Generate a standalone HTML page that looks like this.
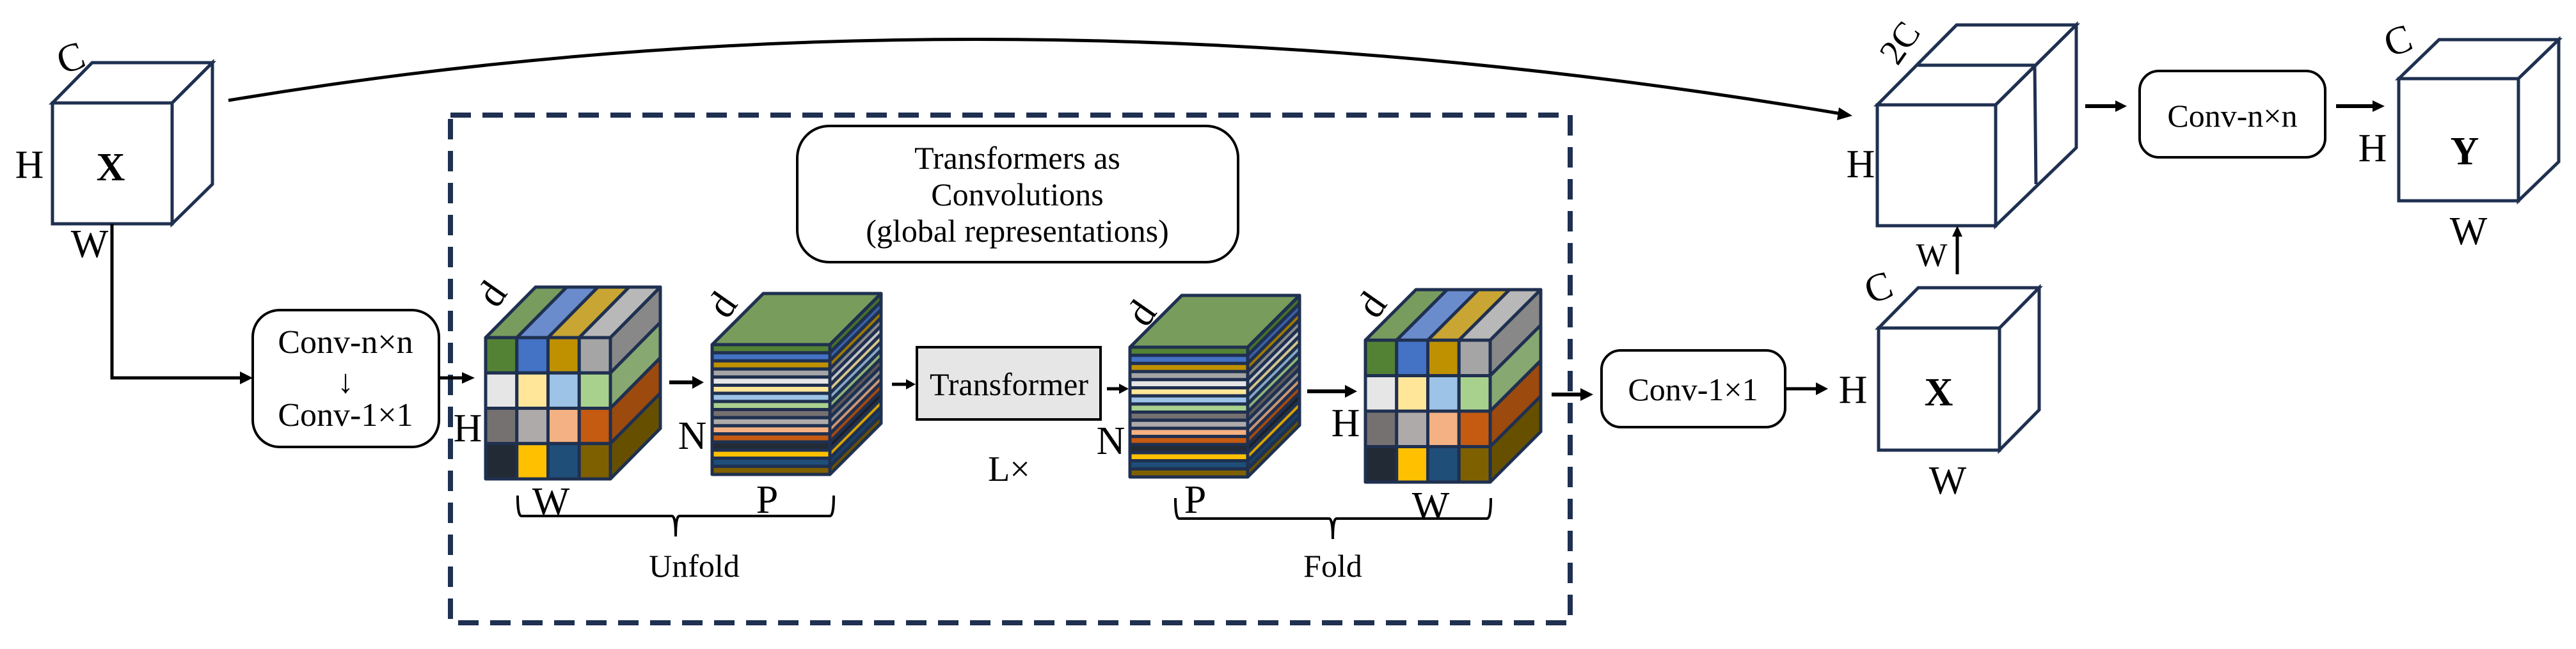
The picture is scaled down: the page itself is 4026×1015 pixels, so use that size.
<!DOCTYPE html>
<html><head><meta charset="utf-8"><style>
html,body{margin:0;padding:0;background:#fff;}
svg{display:block;}
svg text{font-family:"Liberation Serif","Times New Roman","DejaVu Serif",serif;fill:#000;}
</style></head><body>
<svg id="s" width="4026" height="1015" viewBox="0 0 4026 1015" xmlns="http://www.w3.org/2000/svg" font-family="Liberation Serif, Times New Roman, DejaVu Serif, serif">
<rect width="4026" height="1015" fill="#fff"/>
<rect x="704" y="180" width="1750" height="794" fill="none" stroke="#1f3050" stroke-width="8" stroke-dasharray="32 18"/>

<g fill="#fff" stroke="#1f3050" stroke-width="5" stroke-linejoin="miter">
<polygon points="82,161 144,98 332,98 269,161"/>
<polygon points="269,161 332,98 332,288 269,350"/>
<rect x="82" y="161" width="187" height="189"/>
</g>
<text x="92" y="118" font-size="62" transform="rotate(-20 92 100)">C</text>
<text x="46" y="278" font-size="62" text-anchor="middle">H</text>
<text x="173" y="282" font-size="62" font-weight="bold" text-anchor="middle">X</text>
<text x="140" y="402" font-size="62" text-anchor="middle">W</text>

<polyline points="175,350 175,591 385,591" fill="none" stroke="#000" stroke-width="5"/>
<polygon points="395,591 375,581 375,601" fill="#000"/>
<rect x="395" y="485" width="291" height="214" rx="42" fill="#fff" stroke="#000" stroke-width="4"/>
<text x="540" y="552" font-size="52" text-anchor="middle">Conv-n×n</text>
<text x="540" y="614" font-size="52" text-anchor="middle">↓</text>
<text x="540" y="666" font-size="52" text-anchor="middle">Conv-1×1</text>
<line x1="686" y1="591" x2="728" y2="591" stroke="#000" stroke-width="5"/>
<polygon points="742,591 722,582 722,600" fill="#000"/>

<path d="M357,157 Q1560,-44 2878,178" fill="none" stroke="#000" stroke-width="5"/>
<polygon points="2895,181 2874,168 2871,188" fill="#000"/>

<g id="cubes"></g>

<text x="769" y="480" font-size="62" text-anchor="middle" transform="rotate(-55 769 460)">d</text>
<text x="1129" y="497" font-size="62" text-anchor="middle" transform="rotate(-55 1129 477)">d</text>
<text x="1784" y="510" font-size="62" text-anchor="middle" transform="rotate(-55 1784 490)">d</text>
<text x="2144" y="497" font-size="62" text-anchor="middle" transform="rotate(-55 2144 477)">d</text>
<text x="731" y="690" font-size="62" text-anchor="middle">H</text>
<text x="1082" y="702" font-size="62" text-anchor="middle">N</text>
<text x="1736" y="710" font-size="62" text-anchor="middle">N</text>
<text x="2103" y="682" font-size="62" text-anchor="middle">H</text>
<text x="861" y="805" font-size="62" text-anchor="middle">W</text>
<text x="1199" y="802" font-size="62" text-anchor="middle">P</text>
<text x="1868" y="802" font-size="62" text-anchor="middle">P</text>
<text x="2236" y="812" font-size="62" text-anchor="middle">W</text>

<line x1="1046" y1="598" x2="1086" y2="598" stroke="#000" stroke-width="6"/>
<polygon points="1100,598 1082,588 1082,608" fill="#000"/>
<line x1="1394" y1="601" x2="1420" y2="601" stroke="#000" stroke-width="5"/>
<polygon points="1431,601 1416,593 1416,609" fill="#000"/>
<line x1="1730" y1="608" x2="1752" y2="608" stroke="#000" stroke-width="5"/>
<polygon points="1764,608 1749,600 1749,616" fill="#000"/>
<line x1="2043" y1="612" x2="2106" y2="612" stroke="#000" stroke-width="6"/>
<polygon points="2121,612 2102,602 2102,622" fill="#000"/>

<rect x="1246" y="197" width="689" height="213" rx="50" fill="#fff" stroke="#000" stroke-width="4"/>
<text x="1590" y="264" font-size="50" text-anchor="middle">Transformers as</text>
<text x="1590" y="321" font-size="50" text-anchor="middle">Convolutions</text>
<text x="1590" y="378" font-size="50" text-anchor="middle">(global representations)</text>
<rect x="1433" y="543" width="287" height="113" fill="#e6e6e6" stroke="#000" stroke-width="4"/>
<text x="1577" y="618" font-size="50" text-anchor="middle">Transformer</text>
<text x="1577" y="752" font-size="56" text-anchor="middle">L×</text>

<path d="M809,775 Q809,807 815,807 L1050,807 Q1056,807 1056,839 Q1056,807 1062,807 L1297,807 Q1303,807 1303,775" fill="none" stroke="#000" stroke-width="4"/>
<text x="1085" y="902" font-size="50" text-anchor="middle">Unfold</text>
<path d="M1837,779 Q1837,811 1843,811 L2077,811 Q2083,811 2083,843 Q2083,811 2089,811 L2324,811 Q2330,811 2330,779" fill="none" stroke="#000" stroke-width="4"/>
<text x="2083" y="902" font-size="50" text-anchor="middle">Fold</text>

<line x1="2425" y1="617" x2="2474" y2="617" stroke="#000" stroke-width="6"/>
<polygon points="2490,617 2470,607 2470,627" fill="#000"/>
<rect x="2503" y="548" width="287" height="120" rx="30" fill="#fff" stroke="#000" stroke-width="4"/>
<text x="2646" y="626" font-size="50" text-anchor="middle">Conv-1×1</text>
<line x1="2790" y1="608" x2="2842" y2="608" stroke="#000" stroke-width="5"/>
<polygon points="2857,608 2838,598 2838,618" fill="#000"/>
<text x="2896" y="630" font-size="62" text-anchor="middle">H</text>

<g fill="#fff" stroke="#1f3050" stroke-width="5">
<polygon points="2936,513 2998,450 3187,450 3125,513"/>
<polygon points="3125,513 3187,450 3187,641 3125,704"/>
<rect x="2936" y="513" width="189" height="191"/>
<polygon points="2934,164 3058,39 3245,39 3119,164"/>
<polygon points="3119,164 3245,39 3245,231 3119,353"/>
<rect x="2934" y="164" width="185" height="189"/>
<line x1="2997" y1="102" x2="3180" y2="102"/>
<line x1="3180" y1="102" x2="3182" y2="288"/>
<polygon points="3749,123 3812,62 3999,62 3936,123"/>
<polygon points="3936,123 3999,62 3999,253 3936,314"/>
<rect x="3749" y="123" width="187" height="191"/>
</g>
<text x="3030" y="634" font-size="62" font-weight="bold" text-anchor="middle">X</text>
<text x="2936" y="470" font-size="62" text-anchor="middle" transform="rotate(-20 2936 450)">C</text>
<text x="3044" y="772" font-size="62" text-anchor="middle">W</text>
<text x="2968" y="86" font-size="56" text-anchor="middle" transform="rotate(-55 2968 66)">2C</text>
<text x="2908" y="277" font-size="62" text-anchor="middle">H</text>
<line x1="3059" y1="429" x2="3059" y2="368" stroke="#000" stroke-width="5"/>
<polygon points="3059,353 3051,370 3067,370" fill="#000"/>
<text x="3019" y="416" font-size="52" text-anchor="middle">W</text>
<line x1="3259" y1="166" x2="3310" y2="166" stroke="#000" stroke-width="6"/>
<polygon points="3324,166 3306,157 3306,175" fill="#000"/>
<rect x="3344" y="111" width="290" height="135" rx="30" fill="#fff" stroke="#000" stroke-width="4"/>
<text x="3489" y="198" font-size="50" text-anchor="middle">Conv-n×n</text>
<line x1="3651" y1="166" x2="3712" y2="166" stroke="#000" stroke-width="6"/>
<polygon points="3727,166 3708,157 3708,175" fill="#000"/>
<text x="3708" y="252" font-size="62" text-anchor="middle">H</text>
<text x="3852" y="257" font-size="62" font-weight="bold" text-anchor="middle">Y</text>
<text x="3858" y="382" font-size="62" text-anchor="middle">W</text>
<text x="3748" y="84" font-size="62" text-anchor="middle" transform="rotate(-20 3748 64)">C</text>
</svg>
<script>
(function(){
var NS="http://www.w3.org/2000/svg",g=document.getElementById("cubes"),S="#1f3050";
function poly(pts,fill){var p=document.createElementNS(NS,"polygon");p.setAttribute("points",pts.map(function(a){return a[0]+","+a[1]}).join(" "));p.setAttribute("fill",fill);p.setAttribute("stroke",S);p.setAttribute("stroke-width","5");p.setAttribute("stroke-linejoin","round");g.appendChild(p);}
var rows=[["#548235","#4472c4","#bf9000","#a5a5a5"],["#e7e6e6","#ffe699","#9dc3e6","#a9d18e"],["#767171","#aeaaaa","#f4b183","#c55a11"],["#222a35","#ffc000","#1f4e79","#7f6000"]];
var topc=["#789c5e","#6a8ccd","#c9a633","#b8b8b8"],side=["#888888","#87a870","#9c4a0e","#665000"];
function grid(x,y,w,h,dx,dy){var cw=w/4,rh=h/4,i,j;
for(i=0;i<4;i++)poly([[x+i*cw,y],[x+i*cw+dx,y+dy],[x+(i+1)*cw+dx,y+dy],[x+(i+1)*cw,y]],topc[i]);
for(j=0;j<4;j++)poly([[x+w,y+j*rh],[x+w+dx,y+j*rh+dy],[x+w+dx,y+(j+1)*rh+dy],[x+w,y+(j+1)*rh]],side[j]);
for(j=0;j<4;j++)for(i=0;i<4;i++)poly([[x+i*cw,y+j*rh],[x+(i+1)*cw,y+j*rh],[x+(i+1)*cw,y+(j+1)*rh],[x+i*cw,y+(j+1)*rh]],rows[j][i]);}
var st=["#548235","#4472c4","#bf9000","#a5a5a5","#e7e6e6","#ffe699","#9dc3e6","#a9d18e","#767171","#aeaaaa","#f4b183","#c55a11","#222a35","#ffc000","#1f4e79","#7f6000"];
var sd=["#45702b","#3a5fa5","#9e7800","#8a8a8a","#c4c4c4","#d8c48a","#86a8c6","#8fb278","#5e5a5a","#929090","#cf9670","#a64a0d","#1a212b","#d9a400","#1a4266","#665000"];
function stack(x,y,w,h,dx,dy){var n=16,sh=h/n,j;
poly([[x,y],[x+dx,y+dy],[x+w+dx,y+dy],[x+w,y]],"#789c5c");
for(j=0;j<n;j++){poly([[x+w,y+j*sh],[x+w+dx,y+j*sh+dy],[x+w+dx,y+(j+1)*sh+dy],[x+w,y+(j+1)*sh]],sd[j]);}
for(j=0;j<n;j++){poly([[x,y+j*sh],[x+w,y+j*sh],[x+w,y+(j+1)*sh],[x,y+(j+1)*sh]],st[j]);}}
grid(759,528,195,221,78,-79);
stack(1113,539,184,203,80,-80);
stack(1766,543,184,203,81,-81);
grid(2134,532,195,222,79,-79);
})();
</script>
</body></html>
